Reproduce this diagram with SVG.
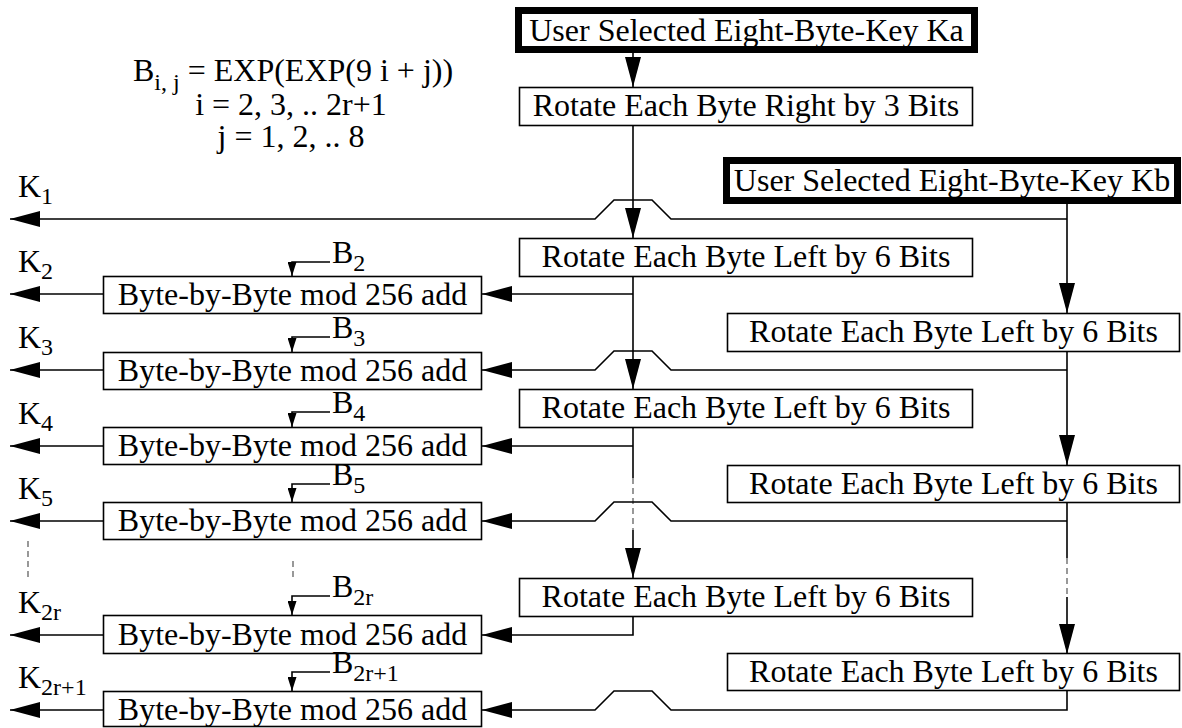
<svg xmlns="http://www.w3.org/2000/svg" width="1182" height="728" viewBox="0 0 1182 728">
<style>
text{font-family:"Liberation Serif","Times New Roman",serif;font-size:32px;fill:#000}
.sub{font-size:24px}
.box{fill:#fff;stroke:#000;stroke-width:1.6}
.key{fill:#fff;stroke:#000;stroke-width:7}
.c{fill:none;stroke:#000;stroke-width:1.6}
.dash{fill:none;stroke:#555;stroke-width:1.2;stroke-dasharray:6,4}
.lbl{text-anchor:middle}
</style>
<defs>
<marker id="ah" viewBox="0 0 30 16" refX="30" refY="8" markerWidth="30" markerHeight="16" orient="auto" markerUnits="userSpaceOnUse"><path d="M0,0 L30,8 L0,16 z" fill="#000"/></marker>
<marker id="sh" viewBox="0 0 14 9" refX="14" refY="4.5" markerWidth="14" markerHeight="9" orient="auto" markerUnits="userSpaceOnUse"><path d="M0,0 L14,4.5 L0,9 z" fill="#000"/></marker>
</defs>
<rect width="1182" height="728" fill="#fff"/>

<g id="formula">
<text x="133" y="81">B<tspan class="sub" dy="9">i, j</tspan><tspan dy="-9"> = EXP(EXP(9 i + j))</tspan></text>
<text class="lbl" x="291" y="115">i = 2, 3, .. 2r+1</text>
<text class="lbl" x="291" y="147">j = 1, 2, .. 8</text>
</g>

<g id="connectors">
<path class="c" d="M633,53 V87" marker-end="url(#ah)"/>
<path class="c" d="M633,125 V238" marker-end="url(#ah)"/>
<path class="c" d="M1067,204 V313" marker-end="url(#ah)"/>
<path class="c" d="M1067,219 H671 L652,200 H614 L595,219 H10" marker-end="url(#ah)"/>
<path class="c" d="M633,276 V389" marker-end="url(#ah)"/>
<path class="c" d="M633,294 H482" marker-end="url(#ah)"/>
<path class="c" d="M1067,352 V465" marker-end="url(#ah)"/>
<path class="c" d="M1067,370 H671 L652,351 H614 L595,370 H482" marker-end="url(#ah)"/>
<path class="c" d="M633,427 V478"/>
<path class="dash" d="M633,478 V530"/>
<path class="c" d="M633,530 V578" marker-end="url(#ah)"/>
<path class="c" d="M633,446 H482" marker-end="url(#ah)"/>
<path class="c" d="M1067,503 V558"/>
<path class="dash" d="M1067,558 V597"/>
<path class="c" d="M1067,597 V654" marker-end="url(#ah)"/>
<path class="c" d="M1067,521 H671 L652,502 H614 L595,521 H482" marker-end="url(#ah)"/>
<path class="c" d="M633,616 V635 H482" marker-end="url(#ah)"/>
<path class="c" d="M1067,691 V710 H671 L652,691 H614 L595,710 H482" marker-end="url(#ah)"/>
<path class="c" d="M103,294 H10" marker-end="url(#ah)"/>
<path class="c" d="M103,370 H10" marker-end="url(#ah)"/>
<path class="c" d="M103,446 H10" marker-end="url(#ah)"/>
<path class="c" d="M103,521 H10" marker-end="url(#ah)"/>
<path class="c" d="M103,635 H10" marker-end="url(#ah)"/>
<path class="c" d="M103,710 H10" marker-end="url(#ah)"/>
<path class="c" d="M330,262 H292 V276" marker-end="url(#sh)"/>
<path class="c" d="M330,337 H292 V352" marker-end="url(#sh)"/>
<path class="c" d="M330,412 H292 V427" marker-end="url(#sh)"/>
<path class="c" d="M330,484 H292 V502" marker-end="url(#sh)"/>
<path class="c" d="M330,596 H292 V615" marker-end="url(#sh)"/>
<path class="c" d="M330,672 H292 V691" marker-end="url(#sh)"/>
<path class="dash" d="M28,541 V578"/>
<path class="dash" d="M293,561 V578"/>
</g>

<g id="ka"><rect class="key" x="518.5" y="10.5" width="456" height="39"/><text class="lbl" x="746.5" y="41">User Selected Eight-Byte-Key Ka</text></g>
<g id="kb"><rect class="key" x="726.5" y="160.5" width="451" height="40"/><text class="lbl" x="952" y="191">User Selected Eight-Byte-Key Kb</text></g>

<g id="rotR3"><rect class="box" x="519.5" y="87.5" width="453" height="38"/><text class="lbl" x="746" y="116">Rotate Each Byte Right by 3 Bits</text></g>
<g id="rotL_m1"><rect class="box" x="519.5" y="238.5" width="453" height="38"/><text class="lbl" x="746" y="267">Rotate Each Byte Left by 6 Bits</text></g>
<g id="rotL_m2"><rect class="box" x="519.5" y="389.5" width="453" height="38"/><text class="lbl" x="746" y="418">Rotate Each Byte Left by 6 Bits</text></g>
<g id="rotL_m3"><rect class="box" x="519.5" y="578.5" width="453" height="38"/><text class="lbl" x="746" y="607">Rotate Each Byte Left by 6 Bits</text></g>
<g id="rotL_r1"><rect class="box" x="727.5" y="313.5" width="452" height="38"/><text class="lbl" x="953.5" y="342">Rotate Each Byte Left by 6 Bits</text></g>
<g id="rotL_r2"><rect class="box" x="727.5" y="465.5" width="452" height="37"/><text class="lbl" x="953.5" y="494">Rotate Each Byte Left by 6 Bits</text></g>
<g id="rotL_r3"><rect class="box" x="727.5" y="653.5" width="452" height="37"/><text class="lbl" x="953.5" y="682">Rotate Each Byte Left by 6 Bits</text></g>

<g id="add2"><rect class="box" x="103.5" y="276.5" width="378" height="37"/><text class="lbl" x="292.5" y="305">Byte-by-Byte mod 256 add</text></g>
<g id="add3"><rect class="box" x="103.5" y="352.5" width="378" height="37"/><text class="lbl" x="292.5" y="381">Byte-by-Byte mod 256 add</text></g>
<g id="add4"><rect class="box" x="103.5" y="427.5" width="378" height="37"/><text class="lbl" x="292.5" y="456">Byte-by-Byte mod 256 add</text></g>
<g id="add5"><rect class="box" x="103.5" y="502.5" width="378" height="37"/><text class="lbl" x="292.5" y="531">Byte-by-Byte mod 256 add</text></g>
<g id="add2r"><rect class="box" x="103.5" y="615.5" width="378" height="38"/><text class="lbl" x="292.5" y="645">Byte-by-Byte mod 256 add</text></g>
<g id="add2r1"><rect class="box" x="103.5" y="691.5" width="378" height="35"/><text class="lbl" x="292.5" y="720">Byte-by-Byte mod 256 add</text></g>

<g id="klabels">
<text x="18" y="197">K<tspan class="sub" dy="7">1</tspan></text>
<text x="18" y="272">K<tspan class="sub" dy="7">2</tspan></text>
<text x="18" y="348">K<tspan class="sub" dy="7">3</tspan></text>
<text x="18" y="424">K<tspan class="sub" dy="7">4</tspan></text>
<text x="18" y="499">K<tspan class="sub" dy="7">5</tspan></text>
<text x="18" y="613">K<tspan class="sub" dy="7">2r</tspan></text>
<text x="18" y="688">K<tspan class="sub" dy="7">2r+1</tspan></text>
</g>
<g id="blabels">
<text x="332" y="263">B<tspan class="sub" dy="8">2</tspan></text>
<text x="332" y="338">B<tspan class="sub" dy="8">3</tspan></text>
<text x="332" y="413">B<tspan class="sub" dy="8">4</tspan></text>
<text x="332" y="485">B<tspan class="sub" dy="8">5</tspan></text>
<text x="332" y="597">B<tspan class="sub" dy="8">2r</tspan></text>
<text x="332" y="673">B<tspan class="sub" dy="8">2r+1</tspan></text>
</g>
</svg>
